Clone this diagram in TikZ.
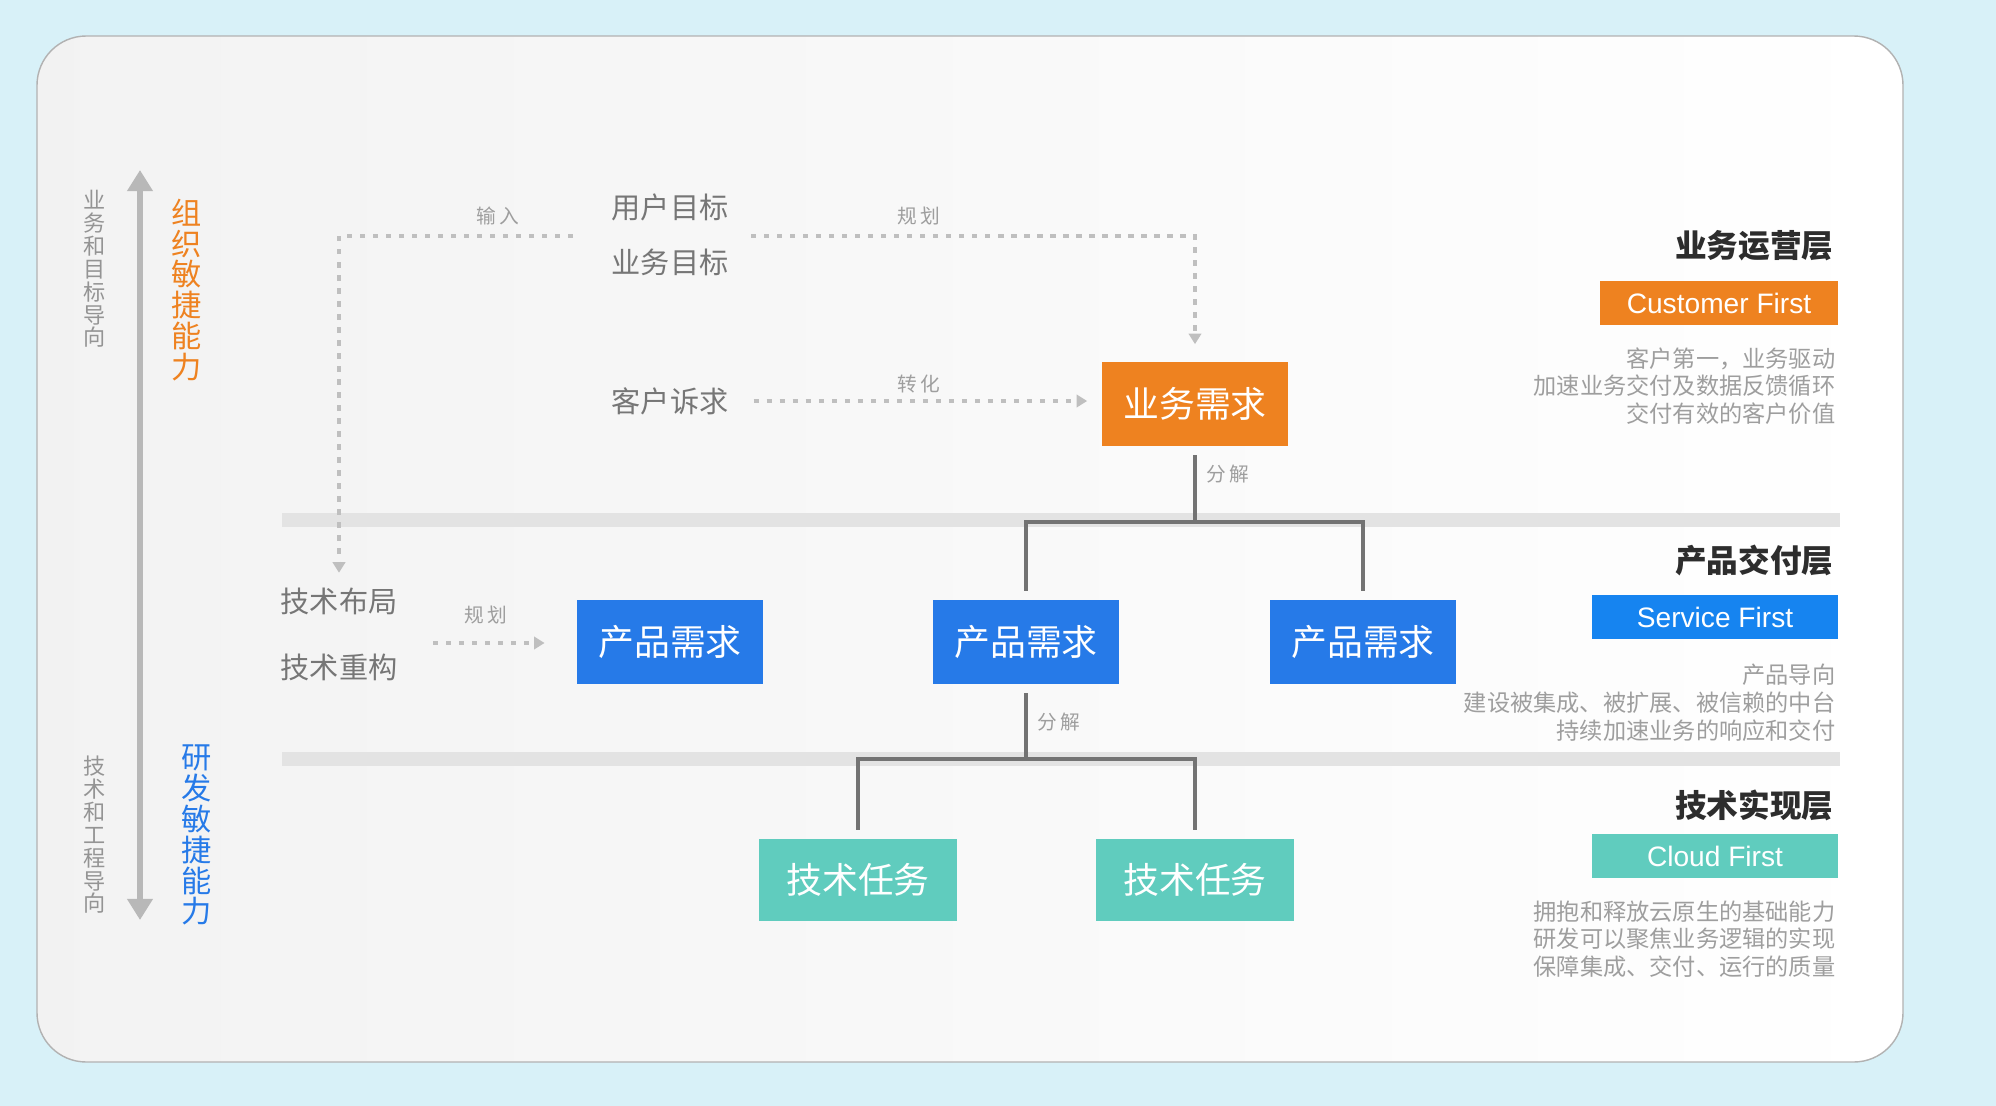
\documentclass[tikz,border=0pt]{standalone}
\usepackage{fontspec}
\setmainfont{Noto Sans CJK SC}
\newfontfamily\latinsans{Liberation Sans}
\usepackage{tikz}
\usetikzlibrary{arrows.meta,positioning,calc}
\definecolor{bizorange}{RGB}{238,130,32}
\definecolor{prodblue}{RGB}{38,122,232}
\definecolor{svcblue}{RGB}{22,132,240}
\definecolor{techteal}{RGB}{96,204,190}
\definecolor{bgcyan}{RGB}{216,241,248}
\definecolor{textgray}{RGB}{118,118,118}
\definecolor{notegray}{RGB}{158,158,158}
\definecolor{titlegray}{RGB}{45,45,45}

\begin{document}
\begin{tikzpicture}[x=0.01cm,y=-0.01cm,>=Latex,every node/.style={inner sep=0pt},
  reqbox/.style={minimum width=1.86cm,minimum height=0.83cm,text=white,font=\fontsize{10.2}{12}\selectfont},
  bizbox/.style={reqbox,fill=bizorange},
  prodbox/.style={reqbox,fill=prodblue},
  taskbox/.style={reqbox,fill=techteal,minimum width=1.97cm,minimum height=0.81cm},
  tagbox/.style={minimum width=2.46cm,minimum height=0.43cm,text=white,font=\latinsans\fontsize{8}{9}\selectfont},
  srctext/.style={text=textgray,font=\fontsize{8.3}{10}\selectfont},
  flowlabel/.style={text=notegray,font=\fontsize{5.6}{7}\selectfont},
  dashflow/.style={draw=black!25,line width=0.9pt,dash pattern=on 1.5pt off 2.2pt,-{Triangle[length=3pt,width=3.5pt]}},
  treeline/.style={draw=black!55,line width=0.9pt},
  layertitle/.style={anchor=east,text=titlegray,font=\bfseries\fontsize{9}{11}\selectfont},
  notetext/.style={anchor=east,align=right,text=notegray,font=\fontsize{6.6}{7.9}\selectfont},
  vlabel/.style={align=center,text=black!42,font=\fontsize{6.3}{6.5}\selectfont},
  agile/.style={align=center,font=\fontsize{8.6}{8.8}\selectfont}]
\useasboundingbox (0,0) rectangle (1996,1106);
\fill[bgcyan] (0,0) rectangle (1996,1106);
\shade[left color=black!5,right color=white,draw=black!30,line width=0.4pt,rounded corners=14pt] (37,36) rectangle (1903,1062);
\fill[black!11] (282,513) rectangle (1840,527);
\fill[black!11] (282,752) rectangle (1840,766);

\coordinate (axtop) at (140,170);
\coordinate (axbot) at (140,920);
\draw[black!28,line width=1.7pt,{Triangle[length=6pt,width=7pt]}-{Triangle[length=6pt,width=7pt]}] (axtop) -- (axbot);
\node[vlabel] (bizdir) at (95,269) {业\\务\\和\\目\\标\\导\\向};
\node[agile,text=bizorange] (orgagile) at (187,290) {组\\织\\敏\\捷\\能\\力};
\node[vlabel] (techdir) at (95,835) {技\\术\\和\\工\\程\\导\\向};
\node[agile,text=prodblue] (devagile) at (197,835) {研\\发\\敏\\捷\\能\\力};

\node[srctext] (usergoal) at (670,207) {用户目标};
\node[srctext] (bizgoal) at (670,262) {业务目标};
\node[srctext] (claim) at (670,401) {客户诉求};
\node[srctext] (layout) at (339,601) {技术布局};
\node[srctext] (refactor) at (339,667) {技术重构};

\node[bizbox] (biz) at (1195,404) {业务需求};
\foreach \n/\x in {1/670,2/1026,3/1363}{\node[prodbox] (prod\n) at (\x,642) {产品需求};}
\foreach \n/\x in {1/858,2/1195}{\node[taskbox] (task\n) at (\x,880) {技术任务};}

\coordinate (inL) at (573,236);
\coordinate (planL) at (751,236);
\coordinate (techR) at (433,643);
\coordinate (fork1) at (1195,522);
\coordinate (fork2) at (1026,759);
\draw[dashflow] (inL) -| ([yshift=4pt]layout.north);
\draw[dashflow] (planL) -| ([yshift=5pt]biz.north);
\draw[dashflow,shorten <=7pt,shorten >=4pt] (claim.east) -- (claim.east -| biz.west);
\draw[dashflow,shorten >=9pt] (techR) -- (techR -| prod1.west);
\node[flowlabel] (lbinput) at (498,216) {输\,入};
\node[flowlabel] (lbplan) at (919,216) {规\,划};
\node[flowlabel] (lbturn) at (919,384) {转\,化};
\node[flowlabel] (lbtechplan) at (486,615) {规\,划};

\draw[treeline] ([yshift=-2.5pt]biz.south) -- (fork1);
\draw[treeline,shorten <=2.5pt,shorten >=2.5pt] (prod2.north) |- (fork1) -| (prod3.north);
\draw[treeline] ([yshift=-2.5pt]prod2.south) -- (fork2);
\draw[treeline,shorten <=2.5pt,shorten >=2.5pt] (task1.north) |- (fork2) -| (task2.north);
\node[flowlabel] (lbsplit) at (1228,474) {分\,解};
\node[flowlabel] (lbsplittask) at (1059,722) {分\,解};

\node[layertitle] (opstitle) at (1834,246) {业务运营层};
\node[tagbox,fill=bizorange,minimum width=2.38cm] (custfirst) at (1719,303) {Customer First};
\node[notetext] (opsnote) at (1836,386) {客户第一，业务驱动\\加速业务交付及数据反馈循环\\交付有效的客户价值};
\node[layertitle] (prodtitle) at (1834,560) {产品交付层};
\node[tagbox,fill=svcblue] (svcfirst) at (1715,617) {Service First};
\node[notetext] (prodnote) at (1836,703) {产品导向\\建设被集成、被扩展、被信赖的中台\\持续加速业务的响应和交付};
\node[layertitle] (techtitle) at (1834,805) {技术实现层};
\node[tagbox,fill=techteal] (cloudfirst) at (1715,856) {Cloud First};
\node[notetext] (technote) at (1836,939) {拥抱和释放云原生的基础能力\\研发可以聚焦业务逻辑的实现\\保障集成、交付、运行的质量};
\end{tikzpicture}
\end{document}
